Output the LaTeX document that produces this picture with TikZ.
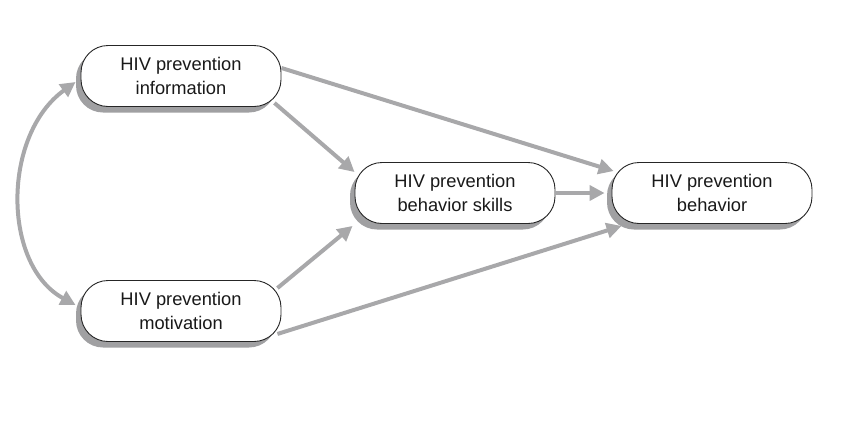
\documentclass[tikz,border=0pt]{standalone}
\usepackage{fontspec}
\setmainfont{Liberation Sans}
\usetikzlibrary{arrows.meta,shadows}
\definecolor{arrowgray}{RGB}{168,168,170}
\definecolor{shadowgray}{RGB}{160,160,162}
\begin{document}
\begin{tikzpicture}[x=1pt,y=-1pt,
    box/.style={draw=black!85, line width=0.9pt, fill=white, rounded corners=27pt,
        minimum width=200pt, minimum height=61pt, inner sep=0pt, align=center,
        text=black!90, font=\fontsize{18.3}{24}\selectfont,
        drop shadow={shadow xshift=-5pt, shadow yshift=-6pt, fill=shadowgray, opacity=1}},
    conn/.style={draw=arrowgray, line width=4pt,
        -{Triangle[length=15pt,width=15pt,fill=arrowgray]}}]
    \useasboundingbox (0,0) rectangle (858,434);

    % Draw the boxes
    \node[box] (info) at (181,76) {HIV prevention\\information};
    \node[box] (motiv) at (181,311) {HIV prevention\\motivation};
    \node[box] (skills) at (455,193) {HIV prevention\\behavior skills};
    \node[box] (behav) at (712,193) {HIV prevention\\behavior};

    % Correlation between information and motivation
    \draw[conn, {Triangle[length=15pt,width=15pt,fill=arrowgray]}-{Triangle[length=15pt,width=15pt,fill=arrowgray]}]
        ([xshift=-5pt,yshift=-6pt]info.west) .. controls (2,135) and (2,265) .. ([xshift=-5pt,yshift=6pt]motiv.west);

    % Paths to behavior skills and behavior
    \draw[conn] ([yshift=8pt]info.east) -- ([xshift=2pt,yshift=-9pt]behav.north west);
    \draw[conn] ([xshift=-7pt,yshift=4pt]info.south east) -- ([yshift=-10pt]skills.north west);
    \draw[conn] ([xshift=-4pt,yshift=-8pt]motiv.north east) -- ([xshift=-2pt,yshift=-2pt]skills.south west);
    \draw[conn] ([xshift=-4pt,yshift=8pt]motiv.south east) -- ([xshift=10pt,yshift=-2pt]behav.south west);
    \draw[conn] (skills.east) -- ([xshift=-7pt]behav.west);

\end{tikzpicture}
\end{document}
